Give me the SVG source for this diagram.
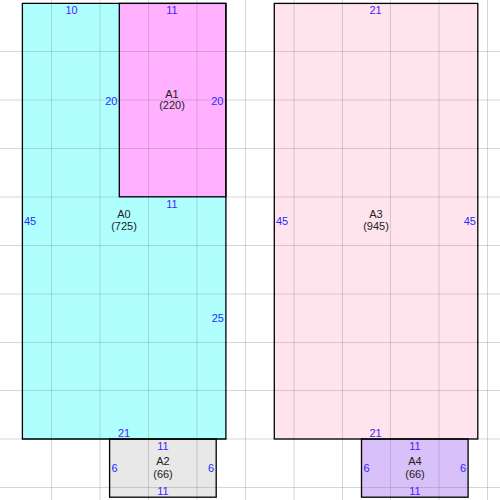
<svg xmlns="http://www.w3.org/2000/svg" width="500" height="500" viewBox="0 0 500 500">
<style>
.box{stroke:#000;stroke-width:1.3}
.grid line{stroke:#777;stroke-opacity:0.3;stroke-width:1}
text{font-family:"Liberation Sans",Arial,sans-serif;font-size:11px}
.n{fill:#222;text-anchor:middle}
.h{fill:#4a1aff;text-anchor:middle}
.v{fill:#2a2aff}
.s{text-anchor:start}
.e{text-anchor:end}
</style>
<rect width="500" height="500" fill="#fff"/>
<g id="fills">
<rect x="22.4" y="3.4" width="203.5" height="435.6" fill="#b0ffff"/>
<rect x="119.3" y="3.4" width="106.6" height="193.4" fill="#ffb0ff"/>
<rect x="109.6" y="439" width="106.6" height="58.2" fill="#e8e8e8"/>
<rect x="274.3" y="3.4" width="203.5" height="435.6" fill="#ffe4ee"/>
<rect x="361.5" y="439" width="106.6" height="58.2" fill="#d8c0f8"/>
</g>
<g class="grid">
<line x1="51.5" y1="0" x2="51.5" y2="500"/>
<line x1="100" y1="0" x2="100" y2="500"/>
<line x1="148.5" y1="0" x2="148.5" y2="500"/>
<line x1="197" y1="0" x2="197" y2="500"/>
<line x1="245.5" y1="0" x2="245.5" y2="500"/>
<line x1="294" y1="0" x2="294" y2="500"/>
<line x1="342.5" y1="0" x2="342.5" y2="500"/>
<line x1="390.5" y1="0" x2="390.5" y2="500"/>
<line x1="439" y1="0" x2="439" y2="500"/>
<line x1="487.5" y1="0" x2="487.5" y2="500"/>
<line x1="0" y1="51.5" x2="500" y2="51.5"/>
<line x1="0" y1="100" x2="500" y2="100"/>
<line x1="0" y1="148.5" x2="500" y2="148.5"/>
<line x1="0" y1="197" x2="500" y2="197"/>
<line x1="0" y1="245.5" x2="500" y2="245.5"/>
<line x1="0" y1="294" x2="500" y2="294"/>
<line x1="0" y1="342.5" x2="500" y2="342.5"/>
<line x1="0" y1="390.5" x2="500" y2="390.5"/>
<line x1="0" y1="439" x2="500" y2="439"/>
<line x1="0" y1="487.5" x2="500" y2="487.5"/>
</g>
<g id="A0">
<polygon class="box" fill="none" points="22.4,3.4 225.9,3.4 225.9,439 22.4,439"/>
<text class="n" x="124" y="218">A0</text>
<text class="n" x="124" y="230">(725)</text>
<text class="h" x="71.5" y="14">10</text>
<text class="h" x="172" y="208">11</text>
<text class="v e" x="117.5" y="104.5">20</text>
<text class="v s" x="24" y="225">45</text>
<text class="v e" x="224" y="322">25</text>
<text class="h" x="124" y="437">21</text>
</g>
<g id="A1">
<rect class="box" fill="none" x="119.3" y="3.4" width="106.6" height="193.4"/>
<text class="n" x="172" y="97.5">A1</text>
<text class="n" x="172" y="109">(220)</text>
<text class="h" x="172" y="14">11</text>
<text class="v e" x="223.5" y="104.5">20</text>
</g>
<g id="A2">
<rect class="box" fill="none" x="109.6" y="439" width="106.6" height="58.2"/>
<text class="n" x="163" y="465">A2</text>
<text class="n" x="163" y="477.5">(66)</text>
<text class="h" x="163" y="450">11</text>
<text class="h" x="163" y="495">11</text>
<text class="v s" x="111.5" y="472">6</text>
<text class="v e" x="214" y="472">6</text>
</g>
<g id="A3">
<rect class="box" fill="none" x="274.3" y="3.4" width="203.5" height="435.6"/>
<text class="n" x="376" y="218">A3</text>
<text class="n" x="376" y="230">(945)</text>
<text class="h" x="375.5" y="14">21</text>
<text class="v s" x="276" y="225">45</text>
<text class="v e" x="476" y="225">45</text>
<text class="h" x="375.5" y="437">21</text>
</g>
<g id="A4">
<rect class="box" fill="none" x="361.5" y="439" width="106.6" height="58.2"/>
<text class="n" x="415" y="465">A4</text>
<text class="n" x="415" y="477.5">(66)</text>
<text class="h" x="415" y="450">11</text>
<text class="h" x="415" y="495">11</text>
<text class="v s" x="363.5" y="472">6</text>
<text class="v e" x="466" y="472">6</text>
</g>
<g id="connectors"></g>
</svg>
